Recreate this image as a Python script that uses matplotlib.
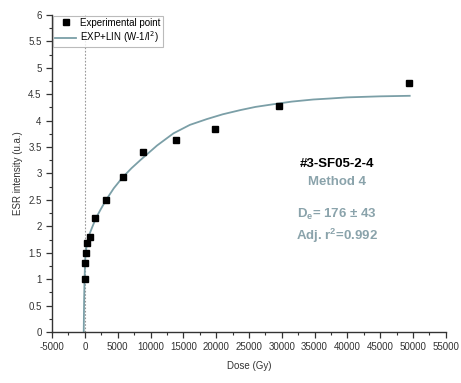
import numpy as np
import matplotlib
matplotlib.use("Agg")
import matplotlib.pyplot as plt
from matplotlib.ticker import MultipleLocator, FuncFormatter

plt.rcParams['font.family'] = ['Liberation Sans', 'DejaVu Sans']

# Experimental points (dose in Gy, ESR intensity)
dose = [0, 30, 130, 380, 800, 1500, 3200, 5750, 8900, 13900, 19800, 29600, 49400]
esr = [1.00, 1.30, 1.50, 1.69, 1.79, 2.15, 2.50, 2.93, 3.41, 3.63, 3.84, 4.28, 4.72]

# EXP+LIN fitted curve
fit_dose = [-176, -150, -120, -80, -40, 0, 50, 120, 250, 400, 690, 1100, 1700, 2400,
            3230, 4400, 5700, 7100, 8600, 11000, 13500, 16000, 18600, 21000,
            23700, 26000, 28700, 31500, 34800, 37500, 39900, 45000, 49500]
fit_esr = [0.00, 0.30, 0.60, 0.85, 1.05, 1.22, 1.38, 1.50, 1.62, 1.70, 1.85, 1.98, 2.16, 2.32,
           2.50, 2.72, 2.92, 3.10, 3.27, 3.53, 3.76, 3.92, 4.03, 4.12,
           4.20, 4.26, 4.31, 4.36, 4.40, 4.42, 4.44, 4.46, 4.47]

text_col = '#8aa3ab'
line_col = '#7b9fa7'

fig = plt.figure(figsize=(4.61, 3.83), dpi=100)
ax = fig.add_axes([0.113, 0.133, 0.854, 0.828])

ax.axvline(0, color='#999999', linestyle=(0, (1.5, 1.5)), linewidth=0.8, zorder=1)
ax.plot(fit_dose, fit_esr, color=line_col, linewidth=1.3, label='EXP+LIN (W-1/I$^2$)', zorder=2)
ax.plot(dose, esr, 's', color='black', markersize=5, linestyle='none',
        label='Experimental point', zorder=3)

ax.set_xlim(-5000, 55000)
ax.set_ylim(0, 6)
ax.xaxis.set_major_locator(MultipleLocator(5000))
ax.xaxis.set_minor_locator(MultipleLocator(2500))
ax.yaxis.set_major_locator(MultipleLocator(0.5))
ax.yaxis.set_minor_locator(MultipleLocator(0.25))
ax.yaxis.set_major_formatter(FuncFormatter(lambda v, p: f'{v:g}'))
ax.xaxis.set_major_formatter(FuncFormatter(lambda v, p: f'{v:g}'))
ax.tick_params(which='both', direction='out', colors='#333333', labelsize=7)
ax.tick_params(which='major', length=4, width=0.9)
ax.tick_params(which='minor', length=2.5, width=0.8)

for s in ['top', 'right']:
    ax.spines[s].set_visible(False)
for s in ['left', 'bottom']:
    ax.spines[s].set_color('#333333')
    ax.spines[s].set_linewidth(1.0)

ax.set_xlabel('Dose (Gy)', fontsize=7, color='#333333', labelpad=6)
ax.set_ylabel('ESR intensity (u.a.)', fontsize=7, color='#333333')

handles, labels = ax.get_legend_handles_labels()
leg = ax.legend(handles[::-1], labels[::-1], loc='upper left', fontsize=7,
                frameon=True, fancybox=False, borderpad=0.2, handlelength=2.2,
                handletextpad=0.4, labelspacing=0.15, borderaxespad=0.1)
leg.get_frame().set_edgecolor('#aaaaaa')
leg.get_frame().set_linewidth(0.8)

ax.text(0.723, 0.53, '#3-SF05-2-4', transform=ax.transAxes, ha='center', va='center',
        fontsize=9.5, fontweight='bold', color='black')
ax.text(0.723, 0.473, 'Method 4', transform=ax.transAxes, ha='center', va='center',
        fontsize=9.5, fontweight='bold', color=text_col)
ax.text(0.723, 0.372, 'D$_\\mathregular{e}$= 176 ± 43', transform=ax.transAxes, ha='center',
        va='center', fontsize=9.5, fontweight='bold', color=text_col)
ax.text(0.723, 0.303, 'Adj. r$^\\mathregular{2}$=0.992', transform=ax.transAxes, ha='center',
        va='center', fontsize=9.5, fontweight='bold', color=text_col)

fig.savefig('out.png', dpi=100)
